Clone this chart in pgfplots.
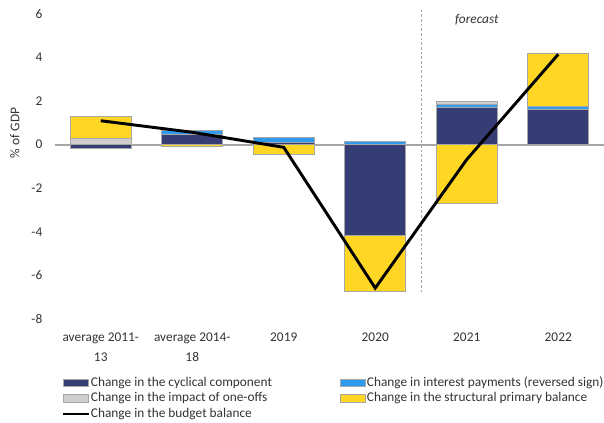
\documentclass[border=0pt]{standalone}
\usepackage{fontspec}
\setmainfont{Carlito}
\usepackage{pgfplots}
\usepackage{pgfplotstable}
\pgfplotsset{compat=1.18}
\definecolor{navy}{HTML}{363C74}
\definecolor{ltblue}{HTML}{2F9BEE}
\definecolor{oneoff}{HTML}{D0CECE}
\definecolor{gold}{HTML}{FFD624}
\definecolor{edge}{HTML}{A6A6A6}
\definecolor{txt}{HTML}{333333}

\pgfplotsset{
  common/.style={
    width=411.75pt, height=228.75pt, scale only axis,
    xmin=-0.5, xmax=5.5, ymin=-8, ymax=6,
  },
  balline/.style={legend image code/.code={\draw[##1] (0pt,0pt) -- (19pt,0pt);}},
}

% positive parts stacked up from zero, negative parts stacked down from zero
\pgfplotstableread{
x cycpos intpos oneoff structpos cycneg structneg bal
0 0.00 0.00 0.28 1.02 -0.15  0.00  1.10
1 0.48 0.17 0.00 0.00  0.00 -0.08  0.57
2 0.12 0.20 0.00 0.00  0.00 -0.45 -0.12
3 0.00 0.15 0.00 0.00 -4.17 -2.56 -6.58
4 1.72 0.14 0.14 0.00  0.00 -2.68 -0.68
5 1.60 0.16 0.00 2.45  0.00  0.00  4.15
}\budget

\begin{document}
\begin{tikzpicture}
\begin{axis}[
  common, name=ax,
  ybar stacked, bar width=0.667,
  xtick={0,...,5},
  xticklabels={{average 2011-\\13},{average 2014-\\18},2019,2020,2021,2022},
  ytick={-8,-6,...,6},
  axis line style={draw=none}, major tick length=0pt,
  tick label style={font=\fontsize{10}{14.5}\selectfont, text=txt},
  /pgf/number format/assume math mode=true,
  yticklabel style={xshift=-6pt},
  xticklabel style={align=center, yshift=-7pt},
  ylabel={\% of GDP},
  ylabel style={at={(axis description cs:-0.073,0.61)}, anchor=center,
    font=\fontsize{10}{12}\selectfont, text=txt},
  extra y ticks={0}, extra y tick labels={},
  extra y tick style={grid=major, major grid style={edge, line width=1.2pt}},
  legend image code/.code={\draw[#1] (0pt,-2.8pt) rectangle (19pt,2.8pt);},
  legend columns=2,
  legend cell align=left,
  legend style={at={(0,0)}, anchor=north west, xshift=5pt, yshift=-42pt,
    draw=none, fill=none, inner sep=0pt,
    font=\fontsize{10}{12}\selectfont, text=txt,
    nodes={inner sep=0.8pt, text height=7.5pt, text depth=2.5pt},
    /tikz/every even column/.append style={column sep=50pt}},
]
\addplot[fill=navy, draw=edge, line width=0.6pt] table[x=x, y=cycpos] {\budget};
\addlegendentry{Change in the cyclical component}
\addplot[fill=ltblue, draw=edge, line width=0.6pt] table[x=x, y=intpos] {\budget};
\addlegendentry{Change in interest payments (reversed sign)}
\addplot[fill=oneoff, draw=edge, line width=0.6pt] table[x=x, y=oneoff] {\budget};
\addlegendentry{Change in the impact of one-offs}
\addplot[fill=gold, draw=edge, line width=0.6pt] table[x=x, y=structpos] {\budget};
\addlegendentry{Change in the structural primary balance}
% the legend image starts a new stack at zero for the negative parts
\addlegendimage{black, line width=2pt, balline}
\addlegendentry{Change in the budget balance}
\addplot[fill=navy, draw=edge, line width=0.6pt] table[x=x, y=cycneg] {\budget};
\addplot[fill=gold, draw=edge, line width=0.6pt] table[x=x, y=structneg] {\budget};
\end{axis}

\begin{axis}[common, hide axis, clip=false]
\addplot[edge, dash pattern=on 2pt off 1.5pt, line width=0.7pt] coordinates {(3.5,6.2) (3.5,-6.8)};
\addplot[black, line width=2.2pt, mark=none, sharp plot] table[x=x, y=bal] {\budget};
\node[font=\itshape\fontsize{10}{12}\selectfont, text=txt] at (axis cs:4.11,5.75) {forecast};
\end{axis}

\pgfresetboundingbox
\path[use as bounding box] ([shift={(-41.25pt,-78pt)}]ax.south west) rectangle ([shift={(0pt,10.5pt)}]ax.north east);
\end{tikzpicture}
\end{document}
